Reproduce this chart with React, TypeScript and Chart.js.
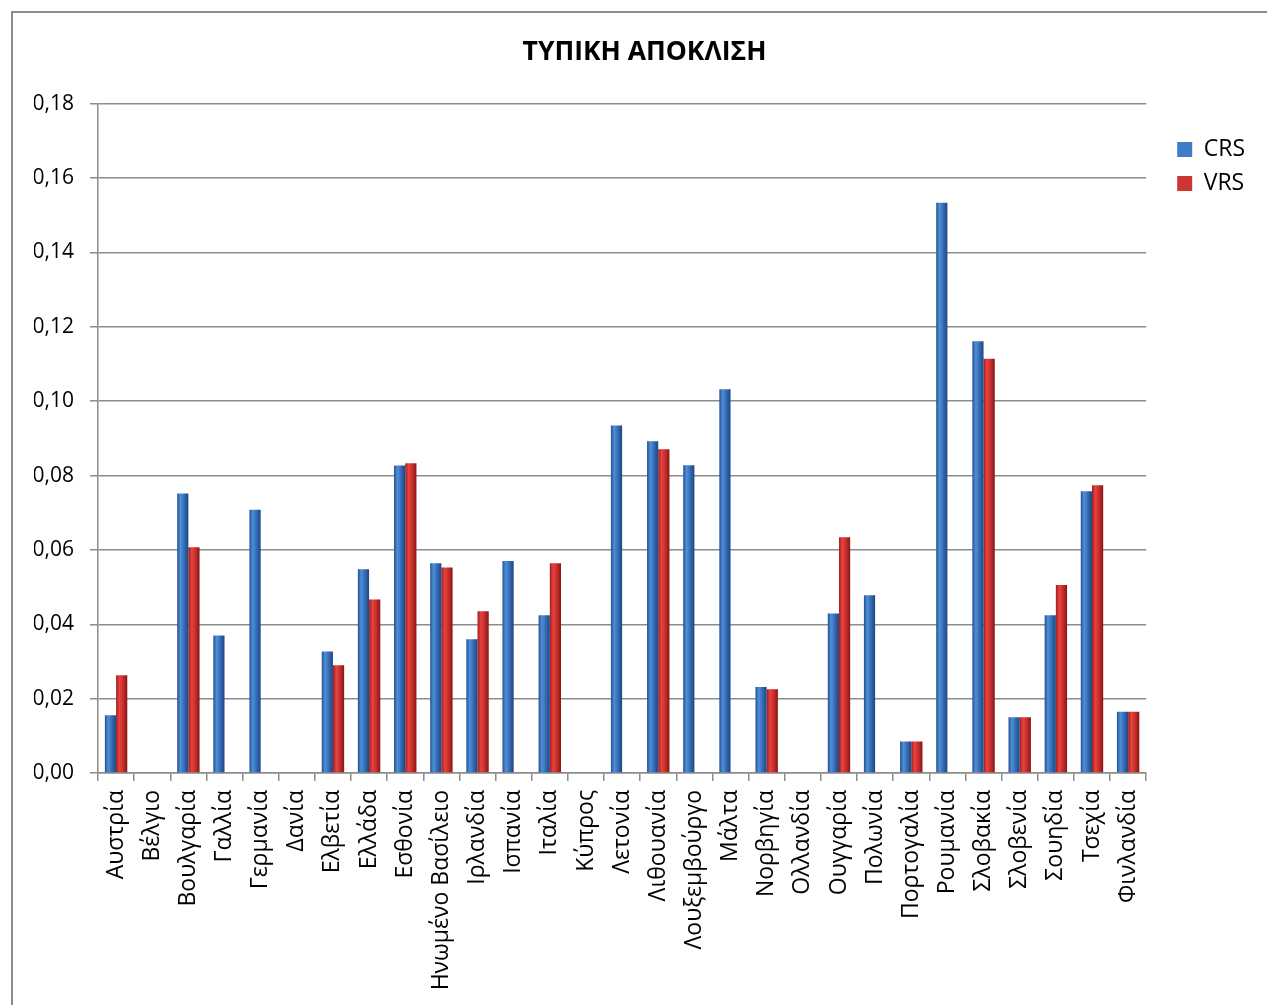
import React, { useEffect, useRef } from "react";
import { Chart, registerables } from "chart.js";

Chart.register(...registerables);

const TITLE = "ΤΥΠΙΚΗ ΑΠΟΚΛΙΣΗ";

const categories = [
  "Αυστρία", "Βέλγιο", "Βουλγαρία", "Γαλλία", "Γερμανία", "Δανία", "Ελβετία",
  "Ελλάδα", "Εσθονία", "Ηνωμένο Βασίλειο", "Ιρλανδία", "Ισπανία", "Ιταλία",
  "Κύπρος", "Λετονία", "Λιθουανία", "Λουξεμβούργο", "Μάλτα", "Νορβηγία",
  "Ολλανδία", "Ουγγαρία", "Πολωνία", "Πορτογαλία", "Ρουμανία", "Σλοβακία",
  "Σλοβενία", "Σουηδία", "Τσεχία", "Φινλανδία",
];

const crsValues = [
  0.0155, null, 0.0752, 0.0370, 0.0708, null, 0.0327,
  0.0548, 0.0827, 0.0564, 0.0360, 0.0570, 0.0424,
  null, 0.0935, 0.0892, 0.0828, 0.1032, 0.0231,
  null, 0.0429, 0.0478, 0.0085, 0.1534, 0.1161,
  0.0150, 0.0424, 0.0758, 0.0165,
];

const vrsValues = [
  0.0263, null, 0.0607, null, null, null, 0.0290,
  0.0467, 0.0833, 0.0553, 0.0435, null, 0.0564,
  null, null, 0.0871, null, null, 0.0225,
  null, 0.0634, null, 0.0085, null, 0.1114,
  0.0150, 0.0506, 0.0774, 0.0165,
];

const seriesNames = ["CRS", "VRS"];
const legendColors = ["#3f7dc9", "#cc3532"];
const Y_MIN = 0;
const Y_MAX = 0.18;
const Y_STEP = 0.02;

const CAT_PCT = 0.62;
const FONT = "'Open Sans', 'Noto Sans', 'DejaVu Sans', sans-serif";

function barFill(stops: string[], solid: string) {
  return (ctx: any) => {
    if (ctx.type !== "data") return solid;
    const chart = ctx.chart;
    const xs = chart.scales && chart.scales.x;
    if (!xs || !xs.width) return solid;
    const center = xs.getPixelForValue(ctx.dataIndex);
    const catW = xs.width / categories.length;
    const barW = (catW * CAT_PCT) / 2;
    const left = center - barW + ctx.datasetIndex * barW;
    const g = chart.ctx.createLinearGradient(left, 0, left + barW, 0);
    g.addColorStop(0, stops[0]);
    g.addColorStop(0.3, stops[1]);
    g.addColorStop(0.65, stops[2]);
    g.addColorStop(1, stops[3]);
    return g;
  };
}

export default function App() {
  const ref = useRef<HTMLCanvasElement | null>(null);

  useEffect(() => {
    if (!ref.current) return;
    const chart = new Chart(ref.current, {
      type: "bar",
      data: {
        labels: categories,
        datasets: [
          {
            label: seriesNames[0],
            data: crsValues,
            backgroundColor: barFill(["#24518f", "#4f8fd8", "#3369b3", "#1d467f"], legendColors[0]),
            borderWidth: 0,
            categoryPercentage: CAT_PCT,
            barPercentage: 1,
          },
          {
            label: seriesNames[1],
            data: vrsValues,
            backgroundColor: barFill(["#a11d1d", "#e6443f", "#c52c2a", "#861616"], legendColors[1]),
            borderWidth: 0,
            categoryPercentage: CAT_PCT,
            barPercentage: 1,
          },
        ],
      },
      options: {
        animation: false,
        responsive: true,
        maintainAspectRatio: false,
        layout: { padding: { left: 34, right: 12, top: 0, bottom: 0 } },
        plugins: {
          title: {
            display: true,
            text: TITLE,
            color: "#000",
            font: { family: FONT, size: 26.5, weight: "bold", lineHeight: 1.2 },
            padding: { top: 37, bottom: 35 },
          },
          legend: {
            position: "right",
            align: "start",
            title: { display: true, text: "", font: { size: 1, lineHeight: 1 }, padding: { top: 126, bottom: 0 } },
            labels: {
              boxWidth: 15,
              boxHeight: 15,
              padding: 11,
              color: "#000",
              font: { family: FONT, size: 23 },
              generateLabels: (c: any) =>
                Chart.defaults.plugins.legend.labels.generateLabels(c).map((item: any, i: number) => ({
                  ...item,
                  fillStyle: legendColors[i],
                  strokeStyle: legendColors[i],
                  lineWidth: 0,
                })),
            },
          },
          tooltip: { enabled: false },
        },
        scales: {
          x: {
            grid: { display: true, drawOnChartArea: false, drawTicks: true, tickLength: 8, color: "#8c8c8c", lineWidth: 1.5 },
            border: { display: true, color: "#8c8c8c", width: 1.5 },
            ticks: {
              color: "#000",
              font: { family: FONT, size: 23 },
              minRotation: 90,
              maxRotation: 90,
              autoSkip: false,
              padding: 9,
            },
            afterFit: (s: any) => { s.height = 232; },
          },
          y: {
            min: Y_MIN,
            max: Y_MAX,
            grid: { color: "#8c8c8c", lineWidth: 1.5, tickLength: 8 },
            border: { display: true, color: "#8c8c8c", width: 1.5 },
            ticks: {
              stepSize: Y_STEP,
              color: "#000",
              font: { family: FONT, size: 21 },
              padding: 16,
              callback: (v: any) => Number(v).toFixed(2).replace(".", ","),
            },
            afterFit: (s: any) => { s.width = 64; },
          },
          spacer: {
            type: "linear",
            position: "right",
            display: true,
            grid: { display: false },
            border: { display: false },
            ticks: { display: false },
            afterFit: (s: any) => { s.width = 20; },
          },
        },
      } as any,
    });
    return () => chart.destroy();
  }, []);

  return (
    <div>
      <div
        style={{
          position: "absolute",
          left: 11,
          top: 11,
          width: 1256,
          height: 994,
          borderTop: "2px solid #8c8c8c",
          borderLeft: "2px solid #8c8c8c",
          boxSizing: "border-box",
        }}
      />
      <div style={{ position: "absolute", left: 0, top: 0, width: 1267, height: 1005 }}>
        <canvas ref={ref} />
      </div>
    </div>
  );
}
